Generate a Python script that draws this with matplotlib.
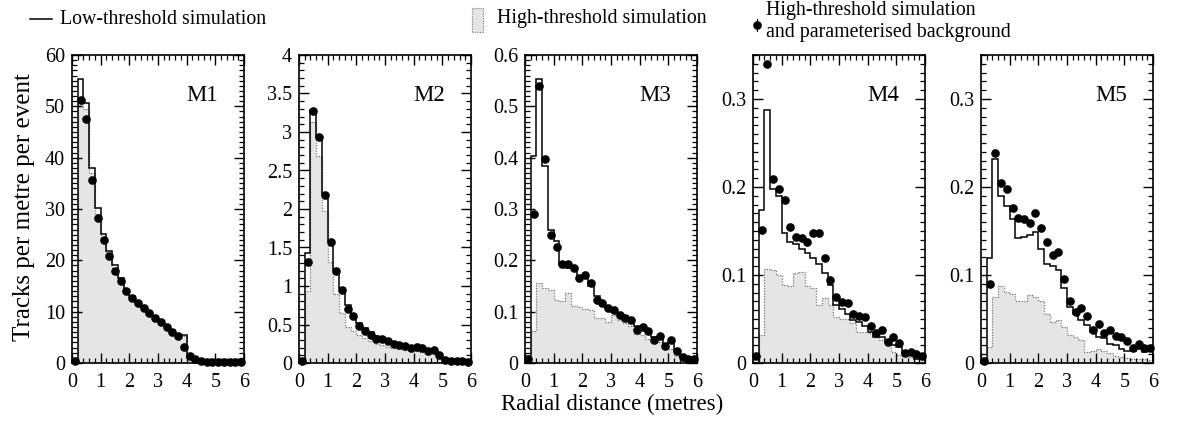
import numpy as np
import matplotlib
matplotlib.use("Agg")
import matplotlib.pyplot as plt
from matplotlib.lines import Line2D
from matplotlib.patches import Rectangle
from matplotlib.ticker import MultipleLocator, FuncFormatter

plt.rcParams['font.family'] = ['Liberation Serif', 'DejaVu Serif']

# 30 bins of 0.2 m between 0 and 6 m
bin_edges = np.linspace(0, 6, 31)

panel_names = ["M1", "M2", "M3", "M4", "M5"]

m1_low = [0, 55.3, 50.6, 38.0, 30.1, 25.2, 21.8, 19.0, 16.6, 14.3, 13.0, 11.8, 10.9, 10.0, 9.1,
          8.2, 7.4, 6.5, 5.7, 5.5, 0.9, 0.5, 0.3, 0.2, 0.2, 0.2, 0.2, 0.2, 0.2, 0.2]
m1_high = [0, 50.5, 49.5, 37.0, 29.0, 24.5, 21.2, 18.5, 16.2, 14.0, 12.7, 11.6, 10.7, 9.8, 8.9,
           8.0, 7.2, 6.3, 5.5, 5.3, 0.8, 0.4, 0.3, 0.2, 0.15, 0.15, 0.15, 0.15, 0.15, 0.15]
m1_dots = [0.4, 51.2, 47.5, 35.6, 28.3, 23.9, 20.8, 17.9, 16.0, 14.0, 12.7, 11.6, 10.7, 9.8, 8.8,
           7.9, 7.1, 6.1, 5.3, 3.1, 1.4, 0.8, 0.4, 0.2, 0.2, 0.2, 0.2, 0.2, 0.2, 0.2]

m2_low = [0, 1.43, 3.28, 2.95, 2.20, 1.59, 1.21, 0.97, 0.75, 0.63, 0.52, 0.45, 0.40, 0.35, 0.33,
          0.30, 0.27, 0.25, 0.23, 0.21, 0.20, 0.19, 0.17, 0.17, 0.10, 0.05, 0.03, 0.02, 0.015, 0.01]
m2_high = [0, 0.93, 3.13, 2.69, 1.98, 1.31, 0.89, 0.65, 0.47, 0.41, 0.36, 0.33, 0.28, 0.25, 0.23,
           0.21, 0.20, 0.18, 0.17, 0.16, 0.15, 0.14, 0.13, 0.13, 0.08, 0.04, 0.03, 0.02, 0.015, 0.01]
m2_dots = [0.02, 1.31, 3.27, 2.94, 2.18, 1.57, 1.20, 0.95, 0.70, 0.61, 0.48, 0.41, 0.36, 0.31, 0.31,
           0.28, 0.25, 0.23, 0.22, 0.20, 0.21, 0.19, 0.16, 0.17, 0.10, 0.04, 0.03, 0.02, 0.02, 0.01]

m3_low = [0.01, 0.404, 0.553, 0.384, 0.26, 0.238, 0.192, 0.186, 0.186, 0.168, 0.168, 0.15, 0.13,
          0.115, 0.108, 0.1, 0.097, 0.092, 0.083, 0.072, 0.068, 0.062, 0.05, 0.05, 0.035, 0.04,
          0.025, 0.012, 0.008, 0.005]
m3_high = [0.02, 0.062, 0.156, 0.147, 0.142, 0.122, 0.12, 0.137, 0.111, 0.109, 0.106, 0.103, 0.088,
           0.087, 0.08, 0.094, 0.083, 0.077, 0.072, 0.057, 0.054, 0.047, 0.041, 0.041, 0.034,
           0.028, 0.013, 0.008, 0.006, 0.004]
m3_dots = [0.008, 0.29, 0.54, 0.397, 0.249, 0.225, 0.192, 0.192, 0.185, 0.166, 0.172, 0.155, 0.122,
           0.116, 0.108, 0.104, 0.094, 0.088, 0.083, 0.065, 0.070, 0.062, 0.044, 0.052, 0.033,
           0.044, 0.023, 0.012, 0.008, 0.007]

m4_low = [0, 0.174, 0.288, 0.198, 0.19, 0.148, 0.137, 0.135, 0.129, 0.125, 0.119, 0.113, 0.102,
          0.089, 0.066, 0.061, 0.056, 0.049, 0.047, 0.042, 0.035, 0.03, 0.03, 0.024, 0.02, 0.018,
          0.011, 0.009, 0.005, 0.004]
m4_high = [0, 0.032, 0.107, 0.106, 0.1, 0.089, 0.087, 0.102, 0.103, 0.088, 0.085, 0.066, 0.074,
           0.066, 0.052, 0.05, 0.05, 0.045, 0.035, 0.035, 0.034, 0.029, 0.026, 0.022, 0.013,
           0.009, 0.008, 0.007, 0.005, 0.004]
m4_dots = [0.008, 0.151, 0.34, 0.209, 0.198, 0.185, 0.155, 0.143, 0.142, 0.138, 0.148, 0.148,
           0.119, 0.094, 0.075, 0.069, 0.068, 0.056, 0.053, 0.052, 0.042, 0.034, 0.038, 0.024,
           0.029, 0.023, 0.011, 0.013, 0.010, 0.008]

m5_low = [0, 0.119, 0.232, 0.19, 0.178, 0.164, 0.142, 0.143, 0.146, 0.149, 0.129, 0.113, 0.11,
          0.106, 0.085, 0.064, 0.056, 0.049, 0.043, 0.035, 0.03, 0.028, 0.022, 0.021, 0.016,
          0.014, 0.014, 0.016, 0.012, 0.015]
m5_high = [0, 0.0185, 0.075, 0.087, 0.081, 0.078, 0.071, 0.07, 0.077, 0.075, 0.07, 0.056, 0.047,
           0.049, 0.041, 0.032, 0.03, 0.026, 0.013, 0.014, 0.016, 0.014, 0.011, 0.008, 0.007,
           0.006, 0.005, 0.004, 0.004, 0.003]
m5_dots = [0.002, 0.09, 0.239, 0.204, 0.198, 0.176, 0.165, 0.164, 0.159, 0.17, 0.153, 0.138,
           0.123, 0.126, 0.095, 0.071, 0.058, 0.063, 0.053, 0.037, 0.044, 0.034, 0.038, 0.031,
           0.030, 0.025, 0.017, 0.022, 0.017, 0.017]

low_series = [m1_low, m2_low, m3_low, m4_low, m5_low]
high_series = [m1_high, m2_high, m3_high, m4_high, m5_high]
dot_series = [m1_dots, m2_dots, m3_dots, m4_dots, m5_dots]

y_limits = [60, 4, 0.6, 0.35, 0.35]
y_major = [10, 0.5, 0.1, 0.1, 0.1]
y_minor = [1, 0.1, 0.01, 0.01, 0.01]

W, H = 1184, 423
panel_left_px = [72, 299, 525, 753, 981]
PANEL_TOP, PANEL_W, PANEL_H = 55, 172, 308

FILL_GREY = '#e5e5e5'
LEGEND_SIZE = 14.3


def fx(px):
    return px / W


def fy(py):
    return 1 - py / H


def fmt_tick(v, pos):
    return '%g' % round(v, 3)


fig = plt.figure(figsize=(W / 100, H / 100), dpi=100)

for i, name in enumerate(panel_names):
    left = panel_left_px[i]
    ax = fig.add_axes([fx(left), fy(PANEL_TOP + PANEL_H), PANEL_W / W, PANEL_H / H])

    centres = (bin_edges[:-1] + bin_edges[1:]) / 2

    # high-threshold: grey fill with dotted outline
    ax.stairs(high_series[i], bin_edges, fill=True, color=FILL_GREY, linewidth=0)
    ax.stairs(high_series[i], bin_edges, color='#777777', linestyle=(0, (1, 1.2)), linewidth=0.9)
    # low-threshold: solid step line
    ax.stairs(low_series[i], bin_edges, color='black', linewidth=1.1)
    # high threshold + parameterised background
    ax.plot(centres, dot_series[i], 'o', color='black', markersize=5.2, clip_on=False)

    ax.set_xlim(0, 6)
    ax.set_ylim(0, y_limits[i])
    ax.xaxis.set_major_locator(MultipleLocator(1))
    ax.xaxis.set_minor_locator(MultipleLocator(0.2))
    ax.yaxis.set_major_locator(MultipleLocator(y_major[i]))
    ax.yaxis.set_minor_locator(MultipleLocator(y_minor[i]))
    ax.yaxis.set_major_formatter(FuncFormatter(fmt_tick))
    ax.xaxis.set_major_formatter(FuncFormatter(fmt_tick))
    ax.tick_params(which='both', direction='in', top=True, right=True, labelsize=14.5)
    ax.tick_params(which='major', length=7, width=1.0)
    ax.tick_params(which='minor', length=3.5, width=0.9)
    ax.tick_params(axis='x', pad=7)
    ax.tick_params(axis='y', pad=5)
    for sp in ax.spines.values():
        sp.set_linewidth(1.2)

    ax.text(0.85, 0.867, name, transform=ax.transAxes, ha='right', va='center', fontsize=16.5)

# axis titles
fig.text(fx(24), fy(207), 'Tracks per metre per event', rotation=90,
         ha='center', va='center', fontsize=18)
fig.text(fx(612), fy(404), 'Radial distance (metres)', ha='center', va='center', fontsize=16.5)

# legend drawn by hand across the top
fig.add_artist(Line2D([fx(30), fx(52)], [fy(19), fy(19)], color='black', linewidth=1.1))
fig.text(fx(60), fy(19), 'Low-threshold simulation', ha='left', va='center', fontsize=LEGEND_SIZE)

fig.add_artist(Rectangle((fx(472), fy(32)), 11 / W, 24 / H, facecolor=FILL_GREY,
                         edgecolor='#777777', linestyle=(0, (1, 1.2)), linewidth=0.8))
fig.text(fx(497), fy(19), 'High-threshold simulation', ha='left', va='center', fontsize=LEGEND_SIZE)

fig.add_artist(Line2D([fx(757), fx(757)], [fy(19), fy(31)], color='black', linewidth=0.8))
fig.add_artist(Line2D([fx(757)], [fy(25)], marker='o', color='black', markersize=5.2))
fig.text(fx(766), fy(10), 'High-threshold simulation', ha='left', va='center', fontsize=LEGEND_SIZE)
fig.text(fx(766), fy(33), 'and parameterised background', ha='left', va='center',
         fontsize=LEGEND_SIZE)

fig.savefig('out.png', dpi=100)
